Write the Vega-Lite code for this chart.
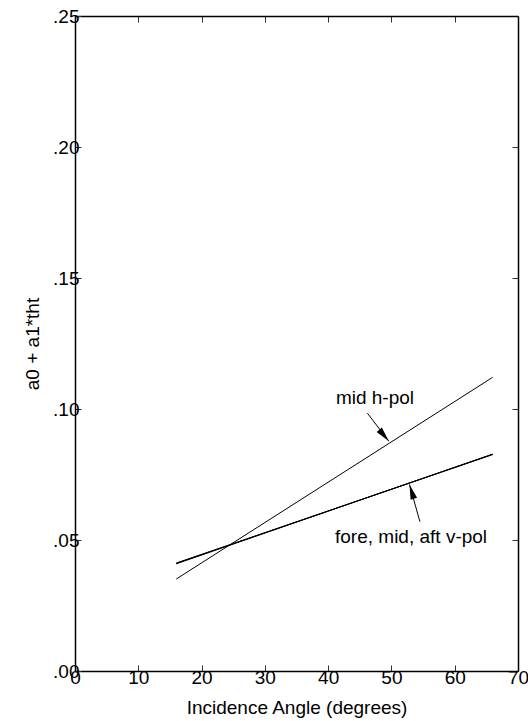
{
  "$schema": "https://vega.github.io/schema/vega-lite/v6.json",
  "width": 443,
  "height": 655,
  "autosize": {"type": "none"},
  "padding": {"left": 75, "top": 16, "right": 10, "bottom": 50},
  "background": "white",
  "config": {
    "view": {"stroke": null},
    "font": "Liberation Sans",
    "axis": {
      "domainColor": "black",
      "domainWidth": 1.5,
      "tickColor": "#333333",
      "tickWidth": 1,
      "grid": false,
      "labelFont": "Liberation Sans",
      "labelFontSize": 19,
      "labelColor": "black",
      "titleFont": "Liberation Sans",
      "titleFontSize": 19,
      "titleFontWeight": "normal",
      "titleColor": "black"
    }
  },
  "datasets": {
    "fits": [
      {"beam": "mid h-pol", "tht": 16, "value": 0.0351},
      {"beam": "mid h-pol", "tht": 66, "value": 0.1121},
      {"beam": "fore v-pol", "tht": 16, "value": 0.0411},
      {"beam": "fore v-pol", "tht": 66, "value": 0.0827},
      {"beam": "mid v-pol", "tht": 16, "value": 0.0409},
      {"beam": "mid v-pol", "tht": 66, "value": 0.0828},
      {"beam": "aft v-pol", "tht": 16, "value": 0.0412},
      {"beam": "aft v-pol", "tht": 66, "value": 0.0826}
    ],
    "notes": [
      {"label": "mid h-pol", "tx": 47.4, "ty": 0.1042, "x0": 46.2, "y0": 0.0984, "x1": 49.6, "y1": 0.0877, "dir": 140},
      {"label": "fore, mid, aft v-pol", "tx": 53.1, "ty": 0.0511, "x0": 54.5, "y0": 0.0570, "x1": 52.85, "y1": 0.0712, "dir": 343}
    ]
  },
  "resolve": {"axis": {"x": "independent", "y": "independent"}},
  "layer": [
    {
      "data": {"name": "fits"},
      "mark": {"type": "line", "color": "black", "strokeWidth": 1},
      "encoding": {
        "x": {
          "field": "tht", "type": "quantitative",
          "scale": {"domain": [0, 70], "nice": false, "zero": false},
          "axis": {
            "orient": "bottom",
            "title": "Incidence Angle (degrees)",
            "values": [0, 10, 20, 30, 40, 50, 60, 70],
            "tickSize": -6,
            "labelPadding": 3,
            "labelFlush": false,
            "labelOverlap": false,
            "titlePadding": 11
          }
        },
        "y": {
          "field": "value", "type": "quantitative",
          "scale": {"domain": [0, 0.25], "nice": false, "zero": false},
          "axis": {
            "orient": "left",
            "title": "a0 + a1*tht",
            "values": [0, 0.05, 0.1, 0.15, 0.2, 0.25],
            "labelExpr": "substring(format(datum.value, '.2f'), 1)",
            "tickSize": -6,
            "labelPadding": 2,
            "labelOverlap": false,
            "titlePadding": 10
          }
        },
        "detail": {"field": "beam"}
      }
    },
    {
      "data": {"name": "notes"},
      "mark": {"type": "rule", "color": "black", "strokeWidth": 1},
      "encoding": {
        "x": {
          "field": "x0", "type": "quantitative",
          "axis": {"orient": "top", "title": null, "labels": false, "values": [10, 20, 30, 40, 50, 60], "tickSize": -6}
        },
        "y": {
          "field": "y0", "type": "quantitative",
          "axis": {"orient": "right", "title": null, "labels": false, "values": [0.05, 0.1, 0.15, 0.2], "tickSize": -6}
        },
        "x2": {"field": "x1"},
        "y2": {"field": "y1"}
      }
    },
    {
      "data": {"name": "notes"},
      "mark": {
        "type": "point",
        "shape": "M0,0L-0.45,2L0.45,2Z",
        "filled": true,
        "color": "black",
        "opacity": 1,
        "size": 225
      },
      "encoding": {
        "x": {"field": "x1", "type": "quantitative", "axis": null},
        "y": {"field": "y1", "type": "quantitative", "axis": null},
        "angle": {"field": "dir", "type": "quantitative", "scale": null}
      }
    },
    {
      "data": {"name": "notes"},
      "mark": {"type": "text", "font": "Liberation Sans", "fontSize": 19, "color": "black", "align": "center", "baseline": "middle"},
      "encoding": {
        "x": {"field": "tx", "type": "quantitative", "axis": null},
        "y": {"field": "ty", "type": "quantitative", "axis": null},
        "text": {"field": "label"}
      }
    }
  ]
}
